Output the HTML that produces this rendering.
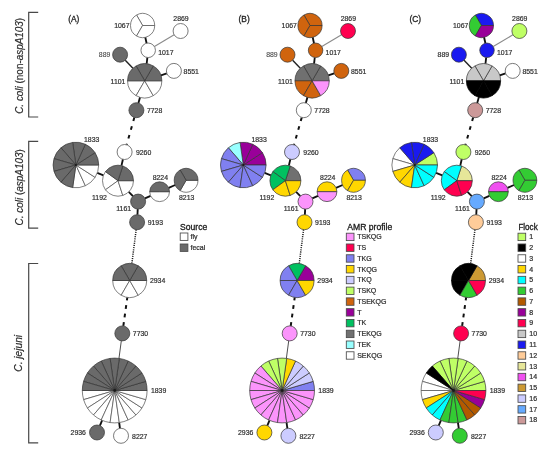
<!DOCTYPE html>
<html><head><meta charset="utf-8"><title>Minimum spanning trees</title>
<style>
html,body{margin:0;padding:0;background:#fff;}
body{width:550px;height:459px;overflow:hidden;}
svg{display:block;filter:blur(0.55px);}
text{font-family:"Liberation Sans",Arial,sans-serif;fill:#2e2e2e;}
.nl{font-size:6.9px;fill:#303030;stroke:#303030;stroke-width:0.2px;}
.lg{fill:#484848;stroke:#484848;stroke-width:0.1px;}
.pl{font-size:8.4px;fill:#222;stroke:#222;stroke-width:0.3px;}
.sp{font-size:10px;stroke:#2e2e2e;stroke-width:0.2px;}
.it{font-style:italic;}
.lt{font-size:8.6px;fill:#1a1a1a;stroke:#1a1a1a;stroke-width:0.3px;}
.li{font-size:7.0px;stroke:#2e2e2e;stroke-width:0.22px;}
</style></head><body>
<svg width="550" height="459" viewBox="0 0 550 459">
<rect width="550" height="459" fill="#fff"/>
<g id="panelA">
<line x1="145.27" y1="37.3" x2="146.6" y2="43.23" stroke="#111" stroke-width="1.85"/>
<line x1="154.43" y1="46.59" x2="174.16" y2="34.84" stroke="#8a8a8a" stroke-width="1.1"/>
<line x1="147.37" y1="57.5" x2="146.66" y2="63.76" stroke="#111" stroke-width="1.85"/>
<line x1="125.24" y1="60.16" x2="132.94" y2="68.32" stroke="#222" stroke-width="1.4"/>
<line x1="166.8" y1="73.31" x2="160.94" y2="75.29" stroke="#111" stroke-width="1.85"/>
<line x1="140.04" y1="97.3" x2="138.44" y2="102.98" stroke="#111" stroke-width="1.85"/>
<line x1="134.36" y1="117.42" x2="126.64" y2="144.78" stroke="#111" stroke-width="2" stroke-dasharray="3.8 5.3"/>
<line x1="122.92" y1="159.31" x2="121.47" y2="165.59" stroke="#111" stroke-width="1.85"/>
<line x1="97.26" y1="172.97" x2="103.48" y2="175.28" stroke="#111" stroke-width="1.85"/>
<line x1="128.74" y1="191.87" x2="132.9" y2="196.19" stroke="#111" stroke-width="1.85"/>
<line x1="144.91" y1="198.46" x2="150.61" y2="195.84" stroke="#111" stroke-width="1.85"/>
<line x1="168.69" y1="187.79" x2="175.17" y2="185" stroke="#111" stroke-width="1.85"/>
<line x1="137.74" y1="209.09" x2="137.46" y2="214.71" stroke="#111" stroke-width="1.85"/>
<line x1="136.16" y1="229.64" x2="131.84" y2="263.64" stroke="#1a1a1a" stroke-width="1.5" stroke-dasharray="1.1 1.1"/>
<line x1="123.34" y1="325.97" x2="127.34" y2="297.34" stroke="#111" stroke-width="2" stroke-dasharray="3.8 4.8"/>
<line x1="121.31" y1="340.83" x2="118.97" y2="358.38" stroke="#222" stroke-width="0.8"/>
<line x1="102.12" y1="420.36" x2="99.91" y2="425.59" stroke="#111" stroke-width="1.85"/>
<line x1="119.16" y1="422.59" x2="119.97" y2="428.37" stroke="#111" stroke-width="1.85"/>
<path d="M142.6 25.5L154.7 25.5A12.1 12.1 0 0 0 136.55 15.02Z" fill="#ffffff" stroke="#4c4c4c" stroke-width="0.7" stroke-linejoin="round"/>
<path d="M142.6 25.5L136.55 15.02A12.1 12.1 0 0 0 136.55 35.98Z" fill="#ffffff" stroke="#4c4c4c" stroke-width="0.7" stroke-linejoin="round"/>
<path d="M142.6 25.5L136.55 35.98A12.1 12.1 0 0 0 154.7 25.5Z" fill="#ffffff" stroke="#4c4c4c" stroke-width="0.7" stroke-linejoin="round"/>
<circle cx="180.6" cy="31" r="7.5" fill="#ffffff" stroke="#626262" stroke-width="0.85"/>
<circle cx="148.2" cy="50.3" r="7.25" fill="#ffffff" stroke="#626262" stroke-width="0.85"/>
<circle cx="120.1" cy="54.7" r="7.5" fill="#6a6a6a" stroke="#333333" stroke-width="0.7"/>
<circle cx="173.9" cy="70.9" r="7.5" fill="#ffffff" stroke="#626262" stroke-width="0.85"/>
<path d="M144.7 80.8L127.55 80.8A17.15 17.15 0 0 0 136.12 95.65Z" fill="#ffffff" stroke="#4c4c4c" stroke-width="0.7" stroke-linejoin="round"/>
<path d="M144.7 80.8L136.12 95.65A17.15 17.15 0 0 0 153.27 95.65Z" fill="#ffffff" stroke="#4c4c4c" stroke-width="0.7" stroke-linejoin="round"/>
<path d="M144.7 80.8L153.27 95.65A17.15 17.15 0 0 0 161.85 80.8Z" fill="#ffffff" stroke="#4c4c4c" stroke-width="0.7" stroke-linejoin="round"/>
<path d="M144.7 80.8L161.85 80.8A17.15 17.15 0 0 0 153.27 65.95Z" fill="#6a6a6a" stroke="#333333" stroke-width="0.7" stroke-linejoin="round"/>
<path d="M144.7 80.8L153.27 65.95A17.15 17.15 0 0 0 136.12 65.95Z" fill="#6a6a6a" stroke="#333333" stroke-width="0.7" stroke-linejoin="round"/>
<path d="M144.7 80.8L136.12 65.95A17.15 17.15 0 0 0 127.55 80.8Z" fill="#6a6a6a" stroke="#333333" stroke-width="0.7" stroke-linejoin="round"/>
<circle cx="136.4" cy="110.2" r="7.5" fill="#6a6a6a" stroke="#333333" stroke-width="0.7"/>
<circle cx="124.6" cy="152" r="7.5" fill="#ffffff" stroke="#626262" stroke-width="0.85"/>
<path d="M75.9 165L72.66 187.57A22.8 22.8 0 0 0 85.37 185.74Z" fill="#ffffff" stroke="#4c4c4c" stroke-width="0.7" stroke-linejoin="round"/>
<path d="M75.9 165L85.37 185.74A22.8 22.8 0 0 0 95.08 177.33Z" fill="#ffffff" stroke="#4c4c4c" stroke-width="0.7" stroke-linejoin="round"/>
<path d="M75.9 165L95.08 177.33A22.8 22.8 0 0 0 98.7 165Z" fill="#ffffff" stroke="#4c4c4c" stroke-width="0.7" stroke-linejoin="round"/>
<path d="M75.9 165L98.7 165A22.8 22.8 0 0 0 95.08 152.67Z" fill="#6a6a6a" stroke="#333333" stroke-width="0.7" stroke-linejoin="round"/>
<path d="M75.9 165L95.08 152.67A22.8 22.8 0 0 0 85.37 144.26Z" fill="#6a6a6a" stroke="#333333" stroke-width="0.7" stroke-linejoin="round"/>
<path d="M75.9 165L85.37 144.26A22.8 22.8 0 0 0 72.66 142.43Z" fill="#6a6a6a" stroke="#333333" stroke-width="0.7" stroke-linejoin="round"/>
<path d="M75.9 165L72.66 142.43A22.8 22.8 0 0 0 60.97 147.77Z" fill="#6a6a6a" stroke="#333333" stroke-width="0.7" stroke-linejoin="round"/>
<path d="M75.9 165L60.97 147.77A22.8 22.8 0 0 0 54.02 158.58Z" fill="#6a6a6a" stroke="#333333" stroke-width="0.7" stroke-linejoin="round"/>
<path d="M75.9 165L54.02 158.58A22.8 22.8 0 0 0 54.02 171.42Z" fill="#6a6a6a" stroke="#333333" stroke-width="0.7" stroke-linejoin="round"/>
<path d="M75.9 165L54.02 171.42A22.8 22.8 0 0 0 60.97 182.23Z" fill="#6a6a6a" stroke="#333333" stroke-width="0.7" stroke-linejoin="round"/>
<path d="M75.9 165L60.97 182.23A22.8 22.8 0 0 0 72.66 187.57Z" fill="#6a6a6a" stroke="#333333" stroke-width="0.7" stroke-linejoin="round"/>
<circle cx="75.9" cy="165" r="1.0" fill="#1a1a1a"/>
<path d="M118 180.7L105.46 171.59A15.5 15.5 0 0 0 105.46 189.81Z" fill="#ffffff" stroke="#4c4c4c" stroke-width="0.7" stroke-linejoin="round"/>
<path d="M118 180.7L105.46 189.81A15.5 15.5 0 0 0 122.79 195.44Z" fill="#ffffff" stroke="#4c4c4c" stroke-width="0.7" stroke-linejoin="round"/>
<path d="M118 180.7L122.79 195.44A15.5 15.5 0 0 0 133.5 180.7Z" fill="#ffffff" stroke="#4c4c4c" stroke-width="0.7" stroke-linejoin="round"/>
<path d="M118 180.7L133.5 180.7A15.5 15.5 0 0 0 122.79 165.96Z" fill="#6a6a6a" stroke="#333333" stroke-width="0.7" stroke-linejoin="round"/>
<path d="M118 180.7L122.79 165.96A15.5 15.5 0 0 0 105.46 171.59Z" fill="#6a6a6a" stroke="#333333" stroke-width="0.7" stroke-linejoin="round"/>
<path d="M159.6 191.7L149.7 191.7A9.9 9.9 0 0 0 169.5 191.7Z" fill="#ffffff" stroke="#4c4c4c" stroke-width="0.7" stroke-linejoin="round"/>
<path d="M159.6 191.7L169.5 191.7A9.9 9.9 0 0 0 149.7 191.7Z" fill="#6a6a6a" stroke="#333333" stroke-width="0.7" stroke-linejoin="round"/>
<path d="M186.1 180.3L180.15 190.61A11.9 11.9 0 0 0 198 180.3Z" fill="#ffffff" stroke="#4c4c4c" stroke-width="0.7" stroke-linejoin="round"/>
<path d="M186.1 180.3L198 180.3A11.9 11.9 0 0 0 180.15 169.99Z" fill="#6a6a6a" stroke="#333333" stroke-width="0.7" stroke-linejoin="round"/>
<path d="M186.1 180.3L180.15 169.99A11.9 11.9 0 0 0 180.15 190.61Z" fill="#6a6a6a" stroke="#333333" stroke-width="0.7" stroke-linejoin="round"/>
<circle cx="138.1" cy="201.6" r="7.5" fill="#6a6a6a" stroke="#333333" stroke-width="0.7"/>
<circle cx="137.1" cy="222.2" r="7.5" fill="#6a6a6a" stroke="#333333" stroke-width="0.7"/>
<path d="M129.7 280.5L112.7 280.5A17 17 0 0 0 121.2 295.22Z" fill="#ffffff" stroke="#4c4c4c" stroke-width="0.7" stroke-linejoin="round"/>
<path d="M129.7 280.5L121.2 295.22A17 17 0 0 0 138.2 295.22Z" fill="#ffffff" stroke="#4c4c4c" stroke-width="0.7" stroke-linejoin="round"/>
<path d="M129.7 280.5L138.2 295.22A17 17 0 0 0 146.7 280.5Z" fill="#ffffff" stroke="#4c4c4c" stroke-width="0.7" stroke-linejoin="round"/>
<path d="M129.7 280.5L146.7 280.5A17 17 0 0 0 138.2 265.78Z" fill="#6a6a6a" stroke="#333333" stroke-width="0.7" stroke-linejoin="round"/>
<path d="M129.7 280.5L138.2 265.78A17 17 0 0 0 121.2 265.78Z" fill="#6a6a6a" stroke="#333333" stroke-width="0.7" stroke-linejoin="round"/>
<path d="M129.7 280.5L121.2 265.78A17 17 0 0 0 112.7 280.5Z" fill="#6a6a6a" stroke="#333333" stroke-width="0.7" stroke-linejoin="round"/>
<circle cx="122.3" cy="333.4" r="7.5" fill="#6a6a6a" stroke="#333333" stroke-width="0.7"/>
<path d="M114.7 390.5L82.3 390.5A32.4 32.4 0 0 0 83.61 399.63Z" fill="#ffffff" stroke="#4c4c4c" stroke-width="0.7" stroke-linejoin="round"/>
<path d="M114.7 390.5L83.61 399.63A32.4 32.4 0 0 0 87.44 408.02Z" fill="#ffffff" stroke="#4c4c4c" stroke-width="0.7" stroke-linejoin="round"/>
<path d="M114.7 390.5L87.44 408.02A32.4 32.4 0 0 0 93.48 414.99Z" fill="#ffffff" stroke="#4c4c4c" stroke-width="0.7" stroke-linejoin="round"/>
<path d="M114.7 390.5L93.48 414.99A32.4 32.4 0 0 0 101.24 419.97Z" fill="#ffffff" stroke="#4c4c4c" stroke-width="0.7" stroke-linejoin="round"/>
<path d="M114.7 390.5L101.24 419.97A32.4 32.4 0 0 0 110.09 422.57Z" fill="#ffffff" stroke="#4c4c4c" stroke-width="0.7" stroke-linejoin="round"/>
<path d="M114.7 390.5L110.09 422.57A32.4 32.4 0 0 0 119.31 422.57Z" fill="#ffffff" stroke="#4c4c4c" stroke-width="0.7" stroke-linejoin="round"/>
<path d="M114.7 390.5L119.31 422.57A32.4 32.4 0 0 0 128.16 419.97Z" fill="#ffffff" stroke="#4c4c4c" stroke-width="0.7" stroke-linejoin="round"/>
<path d="M114.7 390.5L128.16 419.97A32.4 32.4 0 0 0 135.92 414.99Z" fill="#ffffff" stroke="#4c4c4c" stroke-width="0.7" stroke-linejoin="round"/>
<path d="M114.7 390.5L135.92 414.99A32.4 32.4 0 0 0 141.96 408.02Z" fill="#ffffff" stroke="#4c4c4c" stroke-width="0.7" stroke-linejoin="round"/>
<path d="M114.7 390.5L141.96 408.02A32.4 32.4 0 0 0 145.79 399.63Z" fill="#ffffff" stroke="#4c4c4c" stroke-width="0.7" stroke-linejoin="round"/>
<path d="M114.7 390.5L145.79 399.63A32.4 32.4 0 0 0 147.1 390.5Z" fill="#ffffff" stroke="#4c4c4c" stroke-width="0.7" stroke-linejoin="round"/>
<path d="M114.7 390.5L147.1 390.5A32.4 32.4 0 0 0 145.79 381.37Z" fill="#6a6a6a" stroke="#333333" stroke-width="0.7" stroke-linejoin="round"/>
<path d="M114.7 390.5L145.79 381.37A32.4 32.4 0 0 0 141.96 372.98Z" fill="#6a6a6a" stroke="#333333" stroke-width="0.7" stroke-linejoin="round"/>
<path d="M114.7 390.5L141.96 372.98A32.4 32.4 0 0 0 135.92 366.01Z" fill="#6a6a6a" stroke="#333333" stroke-width="0.7" stroke-linejoin="round"/>
<path d="M114.7 390.5L135.92 366.01A32.4 32.4 0 0 0 128.16 361.03Z" fill="#6a6a6a" stroke="#333333" stroke-width="0.7" stroke-linejoin="round"/>
<path d="M114.7 390.5L128.16 361.03A32.4 32.4 0 0 0 119.31 358.43Z" fill="#6a6a6a" stroke="#333333" stroke-width="0.7" stroke-linejoin="round"/>
<path d="M114.7 390.5L119.31 358.43A32.4 32.4 0 0 0 110.09 358.43Z" fill="#6a6a6a" stroke="#333333" stroke-width="0.7" stroke-linejoin="round"/>
<path d="M114.7 390.5L110.09 358.43A32.4 32.4 0 0 0 101.24 361.03Z" fill="#6a6a6a" stroke="#333333" stroke-width="0.7" stroke-linejoin="round"/>
<path d="M114.7 390.5L101.24 361.03A32.4 32.4 0 0 0 93.48 366.01Z" fill="#6a6a6a" stroke="#333333" stroke-width="0.7" stroke-linejoin="round"/>
<path d="M114.7 390.5L93.48 366.01A32.4 32.4 0 0 0 87.44 372.98Z" fill="#6a6a6a" stroke="#333333" stroke-width="0.7" stroke-linejoin="round"/>
<path d="M114.7 390.5L87.44 372.98A32.4 32.4 0 0 0 83.61 381.37Z" fill="#6a6a6a" stroke="#333333" stroke-width="0.7" stroke-linejoin="round"/>
<path d="M114.7 390.5L83.61 381.37A32.4 32.4 0 0 0 82.3 390.5Z" fill="#6a6a6a" stroke="#333333" stroke-width="0.7" stroke-linejoin="round"/>
<circle cx="114.7" cy="390.5" r="1.4" fill="#1a1a1a"/>
<circle cx="97" cy="432.5" r="7.5" fill="#6a6a6a" stroke="#333333" stroke-width="0.7"/>
<circle cx="121" cy="435.8" r="7.5" fill="#ffffff" stroke="#626262" stroke-width="0.85"/>
<text x="114.2" y="27.6" class="nl">1067</text>
<text x="173.3" y="20.6" class="nl">2869</text>
<text x="158.2" y="55.2" class="nl">1017</text>
<text x="98.8" y="56.9" class="nl lg">889</text>
<text x="183.6" y="73.5" class="nl">8551</text>
<text x="110.6" y="83.5" class="nl">1101</text>
<text x="146.9" y="113" class="nl">7728</text>
<text x="135.9" y="155.1" class="nl">9260</text>
<text x="152.7" y="179.5" class="nl">8224</text>
<text x="179" y="199.8" class="nl">8213</text>
<text x="116.3" y="210.8" class="nl">1161</text>
<text x="147.7" y="224.5" class="nl">9193</text>
<text x="84" y="141.7" class="nl">1833</text>
<text x="92" y="199.6" class="nl">1192</text>
<text x="149.9" y="283.4" class="nl">2934</text>
<text x="132.8" y="335.9" class="nl">7730</text>
<text x="150.9" y="392.9" class="nl">1839</text>
<text x="70.6" y="434.8" class="nl">2936</text>
<text x="132.1" y="438.8" class="nl">8227</text>
</g>
<g id="panelB">
<line x1="312.67" y1="37.3" x2="314" y2="43.23" stroke="#111" stroke-width="1.85"/>
<line x1="321.83" y1="46.59" x2="341.56" y2="34.84" stroke="#8a8a8a" stroke-width="1.1"/>
<line x1="314.77" y1="57.5" x2="314.06" y2="63.76" stroke="#111" stroke-width="1.85"/>
<line x1="292.64" y1="60.16" x2="300.34" y2="68.32" stroke="#222" stroke-width="1.4"/>
<line x1="334.2" y1="73.31" x2="328.34" y2="75.29" stroke="#111" stroke-width="1.85"/>
<line x1="307.44" y1="97.3" x2="305.84" y2="102.98" stroke="#111" stroke-width="1.85"/>
<line x1="301.76" y1="117.42" x2="294.04" y2="144.78" stroke="#111" stroke-width="2" stroke-dasharray="3.8 5.3"/>
<line x1="290.32" y1="159.31" x2="288.87" y2="165.59" stroke="#111" stroke-width="1.85"/>
<line x1="264.66" y1="172.97" x2="270.88" y2="175.28" stroke="#111" stroke-width="1.85"/>
<line x1="296.14" y1="191.87" x2="300.3" y2="196.19" stroke="#111" stroke-width="1.85"/>
<line x1="312.31" y1="198.46" x2="318.01" y2="195.84" stroke="#111" stroke-width="1.85"/>
<line x1="336.09" y1="187.79" x2="342.57" y2="185" stroke="#111" stroke-width="1.85"/>
<line x1="305.14" y1="209.09" x2="304.86" y2="214.71" stroke="#111" stroke-width="1.85"/>
<line x1="303.56" y1="229.64" x2="299.24" y2="263.64" stroke="#1a1a1a" stroke-width="1.5" stroke-dasharray="1.1 1.1"/>
<line x1="290.74" y1="325.97" x2="294.74" y2="297.34" stroke="#111" stroke-width="2" stroke-dasharray="3.8 4.8"/>
<line x1="288.71" y1="340.83" x2="286.37" y2="358.38" stroke="#222" stroke-width="0.8"/>
<line x1="269.52" y1="420.36" x2="267.31" y2="425.59" stroke="#111" stroke-width="1.85"/>
<line x1="286.56" y1="422.59" x2="287.37" y2="428.37" stroke="#111" stroke-width="1.85"/>
<path d="M310 25.5L322.1 25.5A12.1 12.1 0 0 0 303.95 15.02Z" fill="#d0640e" stroke="#333333" stroke-width="0.7" stroke-linejoin="round"/>
<path d="M310 25.5L303.95 15.02A12.1 12.1 0 0 0 303.95 35.98Z" fill="#d0640e" stroke="#333333" stroke-width="0.7" stroke-linejoin="round"/>
<path d="M310 25.5L303.95 35.98A12.1 12.1 0 0 0 322.1 25.5Z" fill="#d0640e" stroke="#333333" stroke-width="0.7" stroke-linejoin="round"/>
<circle cx="348" cy="31" r="7.5" fill="#ff0050" stroke="#333333" stroke-width="0.7"/>
<circle cx="315.6" cy="50.3" r="7.25" fill="#d0640e" stroke="#333333" stroke-width="0.7"/>
<circle cx="287.5" cy="54.7" r="7.5" fill="#d0640e" stroke="#333333" stroke-width="0.7"/>
<circle cx="341.3" cy="70.9" r="7.5" fill="#d0640e" stroke="#333333" stroke-width="0.7"/>
<path d="M312.1 80.8L329.25 80.8A17.15 17.15 0 0 0 320.68 65.95Z" fill="#707070" stroke="#333333" stroke-width="0.7" stroke-linejoin="round"/>
<path d="M312.1 80.8L320.68 65.95A17.15 17.15 0 0 0 303.53 65.95Z" fill="#707070" stroke="#333333" stroke-width="0.7" stroke-linejoin="round"/>
<path d="M312.1 80.8L303.53 65.95A17.15 17.15 0 0 0 294.95 80.8Z" fill="#707070" stroke="#333333" stroke-width="0.7" stroke-linejoin="round"/>
<path d="M312.1 80.8L294.95 80.8A17.15 17.15 0 0 0 303.53 95.65Z" fill="#d0640e" stroke="#333333" stroke-width="0.7" stroke-linejoin="round"/>
<path d="M312.1 80.8L303.53 95.65A17.15 17.15 0 0 0 320.68 95.65Z" fill="#d0640e" stroke="#333333" stroke-width="0.7" stroke-linejoin="round"/>
<path d="M312.1 80.8L320.68 95.65A17.15 17.15 0 0 0 329.25 80.8Z" fill="#fb94fb" stroke="#333333" stroke-width="0.7" stroke-linejoin="round"/>
<circle cx="303.8" cy="110.2" r="7.5" fill="#ffffff" stroke="#626262" stroke-width="0.85"/>
<circle cx="292" cy="152" r="7.5" fill="#ccccff" stroke="#333333" stroke-width="0.7"/>
<path d="M243.3 165L266.1 165A22.8 22.8 0 0 0 262.48 152.67Z" fill="#990099" stroke="#333333" stroke-width="0.7" stroke-linejoin="round"/>
<path d="M243.3 165L262.48 152.67A22.8 22.8 0 0 0 252.77 144.26Z" fill="#990099" stroke="#333333" stroke-width="0.7" stroke-linejoin="round"/>
<path d="M243.3 165L252.77 144.26A22.8 22.8 0 0 0 240.06 142.43Z" fill="#990099" stroke="#333333" stroke-width="0.7" stroke-linejoin="round"/>
<path d="M243.3 165L240.06 142.43A22.8 22.8 0 0 0 228.37 147.77Z" fill="#99ffff" stroke="#333333" stroke-width="0.7" stroke-linejoin="round"/>
<path d="M243.3 165L228.37 147.77A22.8 22.8 0 0 0 221.42 158.58Z" fill="#8080f0" stroke="#333333" stroke-width="0.7" stroke-linejoin="round"/>
<path d="M243.3 165L221.42 158.58A22.8 22.8 0 0 0 221.42 171.42Z" fill="#8080f0" stroke="#333333" stroke-width="0.7" stroke-linejoin="round"/>
<path d="M243.3 165L221.42 171.42A22.8 22.8 0 0 0 228.37 182.23Z" fill="#8080f0" stroke="#333333" stroke-width="0.7" stroke-linejoin="round"/>
<path d="M243.3 165L228.37 182.23A22.8 22.8 0 0 0 240.06 187.57Z" fill="#8080f0" stroke="#333333" stroke-width="0.7" stroke-linejoin="round"/>
<path d="M243.3 165L240.06 187.57A22.8 22.8 0 0 0 252.77 185.74Z" fill="#8080f0" stroke="#333333" stroke-width="0.7" stroke-linejoin="round"/>
<path d="M243.3 165L252.77 185.74A22.8 22.8 0 0 0 262.48 177.33Z" fill="#8080f0" stroke="#333333" stroke-width="0.7" stroke-linejoin="round"/>
<path d="M243.3 165L262.48 177.33A22.8 22.8 0 0 0 266.1 165Z" fill="#8080f0" stroke="#333333" stroke-width="0.7" stroke-linejoin="round"/>
<circle cx="243.3" cy="165" r="1.0" fill="#1a1a1a"/>
<path d="M285.4 180.7L300.9 180.7A15.5 15.5 0 0 0 290.19 165.96Z" fill="#707070" stroke="#333333" stroke-width="0.7" stroke-linejoin="round"/>
<path d="M285.4 180.7L290.19 165.96A15.5 15.5 0 0 0 272.86 171.59Z" fill="#00c060" stroke="#333333" stroke-width="0.7" stroke-linejoin="round"/>
<path d="M285.4 180.7L272.86 171.59A15.5 15.5 0 0 0 272.86 189.81Z" fill="#00c060" stroke="#333333" stroke-width="0.7" stroke-linejoin="round"/>
<path d="M285.4 180.7L272.86 189.81A15.5 15.5 0 0 0 290.19 195.44Z" fill="#ffd700" stroke="#333333" stroke-width="0.7" stroke-linejoin="round"/>
<path d="M285.4 180.7L290.19 195.44A15.5 15.5 0 0 0 300.9 180.7Z" fill="#ffd700" stroke="#333333" stroke-width="0.7" stroke-linejoin="round"/>
<path d="M327 191.7L336.9 191.7A9.9 9.9 0 0 0 317.1 191.7Z" fill="#ffd700" stroke="#333333" stroke-width="0.7" stroke-linejoin="round"/>
<path d="M327 191.7L317.1 191.7A9.9 9.9 0 0 0 336.9 191.7Z" fill="#fb94fb" stroke="#333333" stroke-width="0.7" stroke-linejoin="round"/>
<path d="M353.5 180.3L365.4 180.3A11.9 11.9 0 0 0 347.55 169.99Z" fill="#8080f0" stroke="#333333" stroke-width="0.7" stroke-linejoin="round"/>
<path d="M353.5 180.3L347.55 169.99A11.9 11.9 0 0 0 347.55 190.61Z" fill="#ffd700" stroke="#333333" stroke-width="0.7" stroke-linejoin="round"/>
<path d="M353.5 180.3L347.55 190.61A11.9 11.9 0 0 0 365.4 180.3Z" fill="#ffd700" stroke="#333333" stroke-width="0.7" stroke-linejoin="round"/>
<circle cx="305.5" cy="201.6" r="7.5" fill="#fb94fb" stroke="#333333" stroke-width="0.7"/>
<circle cx="304.5" cy="222.2" r="7.5" fill="#ffd700" stroke="#333333" stroke-width="0.7"/>
<path d="M297.1 280.5L314.1 280.5A17 17 0 0 0 305.6 265.78Z" fill="#990099" stroke="#333333" stroke-width="0.7" stroke-linejoin="round"/>
<path d="M297.1 280.5L305.6 265.78A17 17 0 0 0 288.6 265.78Z" fill="#00c060" stroke="#333333" stroke-width="0.7" stroke-linejoin="round"/>
<path d="M297.1 280.5L288.6 265.78A17 17 0 0 0 280.1 280.5Z" fill="#8080f0" stroke="#333333" stroke-width="0.7" stroke-linejoin="round"/>
<path d="M297.1 280.5L280.1 280.5A17 17 0 0 0 288.6 295.22Z" fill="#8080f0" stroke="#333333" stroke-width="0.7" stroke-linejoin="round"/>
<path d="M297.1 280.5L288.6 295.22A17 17 0 0 0 305.6 295.22Z" fill="#8080f0" stroke="#333333" stroke-width="0.7" stroke-linejoin="round"/>
<path d="M297.1 280.5L305.6 295.22A17 17 0 0 0 314.1 280.5Z" fill="#ffd700" stroke="#333333" stroke-width="0.7" stroke-linejoin="round"/>
<circle cx="289.7" cy="333.4" r="7.5" fill="#fb94fb" stroke="#333333" stroke-width="0.7"/>
<path d="M282.1 390.5L314.5 390.5A32.4 32.4 0 0 0 313.19 381.37Z" fill="#8080f0" stroke="#333333" stroke-width="0.7" stroke-linejoin="round"/>
<path d="M282.1 390.5L313.19 381.37A32.4 32.4 0 0 0 309.36 372.98Z" fill="#ccccff" stroke="#333333" stroke-width="0.7" stroke-linejoin="round"/>
<path d="M282.1 390.5L309.36 372.98A32.4 32.4 0 0 0 303.32 366.01Z" fill="#ccccff" stroke="#333333" stroke-width="0.7" stroke-linejoin="round"/>
<path d="M282.1 390.5L303.32 366.01A32.4 32.4 0 0 0 295.56 361.03Z" fill="#ccccff" stroke="#333333" stroke-width="0.7" stroke-linejoin="round"/>
<path d="M282.1 390.5L295.56 361.03A32.4 32.4 0 0 0 286.71 358.43Z" fill="#ffd700" stroke="#333333" stroke-width="0.7" stroke-linejoin="round"/>
<path d="M282.1 390.5L286.71 358.43A32.4 32.4 0 0 0 277.49 358.43Z" fill="#bfff66" stroke="#333333" stroke-width="0.7" stroke-linejoin="round"/>
<path d="M282.1 390.5L277.49 358.43A32.4 32.4 0 0 0 268.64 361.03Z" fill="#bfff66" stroke="#333333" stroke-width="0.7" stroke-linejoin="round"/>
<path d="M282.1 390.5L268.64 361.03A32.4 32.4 0 0 0 260.88 366.01Z" fill="#bfff66" stroke="#333333" stroke-width="0.7" stroke-linejoin="round"/>
<path d="M282.1 390.5L260.88 366.01A32.4 32.4 0 0 0 254.84 372.98Z" fill="#fb94fb" stroke="#333333" stroke-width="0.7" stroke-linejoin="round"/>
<path d="M282.1 390.5L254.84 372.98A32.4 32.4 0 0 0 251.01 381.37Z" fill="#fb94fb" stroke="#333333" stroke-width="0.7" stroke-linejoin="round"/>
<path d="M282.1 390.5L251.01 381.37A32.4 32.4 0 0 0 249.7 390.5Z" fill="#fb94fb" stroke="#333333" stroke-width="0.7" stroke-linejoin="round"/>
<path d="M282.1 390.5L249.7 390.5A32.4 32.4 0 0 0 251.01 399.63Z" fill="#fb94fb" stroke="#333333" stroke-width="0.7" stroke-linejoin="round"/>
<path d="M282.1 390.5L251.01 399.63A32.4 32.4 0 0 0 254.84 408.02Z" fill="#fb94fb" stroke="#333333" stroke-width="0.7" stroke-linejoin="round"/>
<path d="M282.1 390.5L254.84 408.02A32.4 32.4 0 0 0 260.88 414.99Z" fill="#fb94fb" stroke="#333333" stroke-width="0.7" stroke-linejoin="round"/>
<path d="M282.1 390.5L260.88 414.99A32.4 32.4 0 0 0 268.64 419.97Z" fill="#fb94fb" stroke="#333333" stroke-width="0.7" stroke-linejoin="round"/>
<path d="M282.1 390.5L268.64 419.97A32.4 32.4 0 0 0 277.49 422.57Z" fill="#fb94fb" stroke="#333333" stroke-width="0.7" stroke-linejoin="round"/>
<path d="M282.1 390.5L277.49 422.57A32.4 32.4 0 0 0 286.71 422.57Z" fill="#fb94fb" stroke="#333333" stroke-width="0.7" stroke-linejoin="round"/>
<path d="M282.1 390.5L286.71 422.57A32.4 32.4 0 0 0 295.56 419.97Z" fill="#fb94fb" stroke="#333333" stroke-width="0.7" stroke-linejoin="round"/>
<path d="M282.1 390.5L295.56 419.97A32.4 32.4 0 0 0 303.32 414.99Z" fill="#fb94fb" stroke="#333333" stroke-width="0.7" stroke-linejoin="round"/>
<path d="M282.1 390.5L303.32 414.99A32.4 32.4 0 0 0 309.36 408.02Z" fill="#fb94fb" stroke="#333333" stroke-width="0.7" stroke-linejoin="round"/>
<path d="M282.1 390.5L309.36 408.02A32.4 32.4 0 0 0 313.19 399.63Z" fill="#fb94fb" stroke="#333333" stroke-width="0.7" stroke-linejoin="round"/>
<path d="M282.1 390.5L313.19 399.63A32.4 32.4 0 0 0 314.5 390.5Z" fill="#fb94fb" stroke="#333333" stroke-width="0.7" stroke-linejoin="round"/>
<circle cx="282.1" cy="390.5" r="1.4" fill="#1a1a1a"/>
<circle cx="264.4" cy="432.5" r="7.5" fill="#ffd700" stroke="#333333" stroke-width="0.7"/>
<circle cx="288.4" cy="435.8" r="7.5" fill="#ccccff" stroke="#333333" stroke-width="0.7"/>
<text x="281.6" y="27.6" class="nl">1067</text>
<text x="340.7" y="20.6" class="nl">2869</text>
<text x="325.6" y="55.2" class="nl">1017</text>
<text x="266.2" y="56.9" class="nl lg">889</text>
<text x="351" y="73.5" class="nl">8551</text>
<text x="278" y="83.5" class="nl">1101</text>
<text x="314.3" y="113" class="nl">7728</text>
<text x="303.3" y="155.1" class="nl">9260</text>
<text x="320.1" y="179.5" class="nl">8224</text>
<text x="346.4" y="199.8" class="nl">8213</text>
<text x="283.7" y="210.8" class="nl">1161</text>
<text x="315.1" y="224.5" class="nl">9193</text>
<text x="251.4" y="141.7" class="nl">1833</text>
<text x="259.4" y="199.6" class="nl">1192</text>
<text x="317.3" y="283.4" class="nl">2934</text>
<text x="300.2" y="335.9" class="nl">7730</text>
<text x="318.3" y="392.9" class="nl">1839</text>
<text x="238" y="434.8" class="nl">2936</text>
<text x="299.5" y="438.8" class="nl">8227</text>
</g>
<g id="panelC">
<line x1="484.07" y1="37.3" x2="485.4" y2="43.23" stroke="#111" stroke-width="1.85"/>
<line x1="493.23" y1="46.59" x2="512.96" y2="34.84" stroke="#8a8a8a" stroke-width="1.1"/>
<line x1="486.17" y1="57.5" x2="485.46" y2="63.76" stroke="#111" stroke-width="1.85"/>
<line x1="464.04" y1="60.16" x2="471.74" y2="68.32" stroke="#222" stroke-width="1.4"/>
<line x1="505.6" y1="73.31" x2="499.74" y2="75.29" stroke="#111" stroke-width="1.85"/>
<line x1="478.84" y1="97.3" x2="477.24" y2="102.98" stroke="#111" stroke-width="1.85"/>
<line x1="473.16" y1="117.42" x2="465.44" y2="144.78" stroke="#111" stroke-width="2" stroke-dasharray="3.8 5.3"/>
<line x1="461.72" y1="159.31" x2="460.27" y2="165.59" stroke="#111" stroke-width="1.85"/>
<line x1="436.06" y1="172.97" x2="442.28" y2="175.28" stroke="#111" stroke-width="1.85"/>
<line x1="467.54" y1="191.87" x2="471.7" y2="196.19" stroke="#111" stroke-width="1.85"/>
<line x1="483.71" y1="198.46" x2="489.41" y2="195.84" stroke="#111" stroke-width="1.85"/>
<line x1="507.49" y1="187.79" x2="513.97" y2="185" stroke="#111" stroke-width="1.85"/>
<line x1="476.54" y1="209.09" x2="476.26" y2="214.71" stroke="#111" stroke-width="1.85"/>
<line x1="474.96" y1="229.64" x2="470.64" y2="263.64" stroke="#1a1a1a" stroke-width="1.5" stroke-dasharray="1.1 1.1"/>
<line x1="462.14" y1="325.97" x2="466.14" y2="297.34" stroke="#111" stroke-width="2" stroke-dasharray="3.8 4.8"/>
<line x1="460.11" y1="340.83" x2="457.77" y2="358.38" stroke="#222" stroke-width="0.8"/>
<line x1="440.92" y1="420.36" x2="438.71" y2="425.59" stroke="#111" stroke-width="1.85"/>
<line x1="457.96" y1="422.59" x2="458.77" y2="428.37" stroke="#111" stroke-width="1.85"/>
<path d="M481.4 25.5L493.5 25.5A12.1 12.1 0 0 0 475.35 15.02Z" fill="#1a1af0" stroke="#333333" stroke-width="0.7" stroke-linejoin="round"/>
<path d="M481.4 25.5L475.35 15.02A12.1 12.1 0 0 0 475.35 35.98Z" fill="#33cc33" stroke="#333333" stroke-width="0.7" stroke-linejoin="round"/>
<path d="M481.4 25.5L475.35 35.98A12.1 12.1 0 0 0 493.5 25.5Z" fill="#990099" stroke="#333333" stroke-width="0.7" stroke-linejoin="round"/>
<circle cx="519.4" cy="31" r="7.5" fill="#bfff66" stroke="#333333" stroke-width="0.7"/>
<circle cx="487" cy="50.3" r="7.25" fill="#1a1af0" stroke="#333333" stroke-width="0.7"/>
<circle cx="458.9" cy="54.7" r="7.5" fill="#1a1af0" stroke="#333333" stroke-width="0.7"/>
<circle cx="512.7" cy="70.9" r="7.5" fill="#ffffff" stroke="#626262" stroke-width="0.85"/>
<path d="M483.5 80.8L500.65 80.8A17.15 17.15 0 0 0 492.07 65.95Z" fill="#c8c8c8" stroke="#333333" stroke-width="0.7" stroke-linejoin="round"/>
<path d="M483.5 80.8L492.07 65.95A17.15 17.15 0 0 0 474.93 65.95Z" fill="#c8c8c8" stroke="#333333" stroke-width="0.7" stroke-linejoin="round"/>
<path d="M483.5 80.8L474.93 65.95A17.15 17.15 0 0 0 466.35 80.8Z" fill="#c8c8c8" stroke="#333333" stroke-width="0.7" stroke-linejoin="round"/>
<path d="M483.5 80.8L466.35 80.8A17.15 17.15 0 0 0 474.93 95.65Z" fill="#000000" stroke="#000" stroke-width="0.7" stroke-linejoin="round"/>
<path d="M483.5 80.8L474.93 95.65A17.15 17.15 0 0 0 492.07 95.65Z" fill="#000000" stroke="#000" stroke-width="0.7" stroke-linejoin="round"/>
<path d="M483.5 80.8L492.07 95.65A17.15 17.15 0 0 0 500.65 80.8Z" fill="#000000" stroke="#000" stroke-width="0.7" stroke-linejoin="round"/>
<circle cx="475.2" cy="110.2" r="7.5" fill="#cc9999" stroke="#333333" stroke-width="0.7"/>
<circle cx="463.4" cy="152" r="7.5" fill="#bfff66" stroke="#333333" stroke-width="0.7"/>
<path d="M414.7 165L399.77 147.77A22.8 22.8 0 0 0 392.82 158.58Z" fill="#ffffff" stroke="#4c4c4c" stroke-width="0.7" stroke-linejoin="round"/>
<path d="M414.7 165L392.82 158.58A22.8 22.8 0 0 0 392.82 171.42Z" fill="#ffffff" stroke="#4c4c4c" stroke-width="0.7" stroke-linejoin="round"/>
<path d="M414.7 165L437.5 165A22.8 22.8 0 0 0 433.88 152.67Z" fill="#bfff66" stroke="#333333" stroke-width="0.7" stroke-linejoin="round"/>
<path d="M414.7 165L433.88 152.67A22.8 22.8 0 0 0 424.17 144.26Z" fill="#1a1af0" stroke="#333333" stroke-width="0.7" stroke-linejoin="round"/>
<path d="M414.7 165L424.17 144.26A22.8 22.8 0 0 0 411.46 142.43Z" fill="#1a1af0" stroke="#333333" stroke-width="0.7" stroke-linejoin="round"/>
<path d="M414.7 165L411.46 142.43A22.8 22.8 0 0 0 399.77 147.77Z" fill="#1a1af0" stroke="#333333" stroke-width="0.7" stroke-linejoin="round"/>
<path d="M414.7 165L392.82 171.42A22.8 22.8 0 0 0 399.77 182.23Z" fill="#ffd700" stroke="#333333" stroke-width="0.7" stroke-linejoin="round"/>
<path d="M414.7 165L399.77 182.23A22.8 22.8 0 0 0 411.46 187.57Z" fill="#ffd700" stroke="#333333" stroke-width="0.7" stroke-linejoin="round"/>
<path d="M414.7 165L411.46 187.57A22.8 22.8 0 0 0 424.17 185.74Z" fill="#00ffff" stroke="#333333" stroke-width="0.7" stroke-linejoin="round"/>
<path d="M414.7 165L424.17 185.74A22.8 22.8 0 0 0 433.88 177.33Z" fill="#00ffff" stroke="#333333" stroke-width="0.7" stroke-linejoin="round"/>
<path d="M414.7 165L433.88 177.33A22.8 22.8 0 0 0 437.5 165Z" fill="#00ffff" stroke="#333333" stroke-width="0.7" stroke-linejoin="round"/>
<circle cx="414.7" cy="165" r="1.0" fill="#1a1a1a"/>
<path d="M456.8 180.7L472.3 180.7A15.5 15.5 0 0 0 461.59 165.96Z" fill="#e6e699" stroke="#333333" stroke-width="0.7" stroke-linejoin="round"/>
<path d="M456.8 180.7L461.59 165.96A15.5 15.5 0 0 0 444.26 171.59Z" fill="#00ffff" stroke="#333333" stroke-width="0.7" stroke-linejoin="round"/>
<path d="M456.8 180.7L444.26 171.59A15.5 15.5 0 0 0 444.26 189.81Z" fill="#00ffff" stroke="#333333" stroke-width="0.7" stroke-linejoin="round"/>
<path d="M456.8 180.7L444.26 189.81A15.5 15.5 0 0 0 461.59 195.44Z" fill="#ff0050" stroke="#333333" stroke-width="0.7" stroke-linejoin="round"/>
<path d="M456.8 180.7L461.59 195.44A15.5 15.5 0 0 0 472.3 180.7Z" fill="#ff0050" stroke="#333333" stroke-width="0.7" stroke-linejoin="round"/>
<path d="M498.4 191.7L508.3 191.7A9.9 9.9 0 0 0 488.5 191.7Z" fill="#f050f0" stroke="#333333" stroke-width="0.7" stroke-linejoin="round"/>
<path d="M498.4 191.7L488.5 191.7A9.9 9.9 0 0 0 508.3 191.7Z" fill="#33cc33" stroke="#333333" stroke-width="0.7" stroke-linejoin="round"/>
<path d="M524.9 180.3L536.8 180.3A11.9 11.9 0 0 0 518.95 169.99Z" fill="#33cc33" stroke="#333333" stroke-width="0.7" stroke-linejoin="round"/>
<path d="M524.9 180.3L518.95 169.99A11.9 11.9 0 0 0 518.95 190.61Z" fill="#33cc33" stroke="#333333" stroke-width="0.7" stroke-linejoin="round"/>
<path d="M524.9 180.3L518.95 190.61A11.9 11.9 0 0 0 536.8 180.3Z" fill="#33cc33" stroke="#333333" stroke-width="0.7" stroke-linejoin="round"/>
<circle cx="476.9" cy="201.6" r="7.5" fill="#66aaff" stroke="#333333" stroke-width="0.7"/>
<circle cx="475.9" cy="222.2" r="7.5" fill="#ffcc99" stroke="#333333" stroke-width="0.7"/>
<path d="M468.5 280.5L485.5 280.5A17 17 0 0 0 477 265.78Z" fill="#cc9933" stroke="#333333" stroke-width="0.7" stroke-linejoin="round"/>
<path d="M468.5 280.5L477 265.78A17 17 0 0 0 460 265.78Z" fill="#000000" stroke="#000" stroke-width="0.7" stroke-linejoin="round"/>
<path d="M468.5 280.5L460 265.78A17 17 0 0 0 451.5 280.5Z" fill="#000000" stroke="#000" stroke-width="0.7" stroke-linejoin="round"/>
<path d="M468.5 280.5L451.5 280.5A17 17 0 0 0 460 295.22Z" fill="#000000" stroke="#000" stroke-width="0.7" stroke-linejoin="round"/>
<path d="M468.5 280.5L460 295.22A17 17 0 0 0 477 295.22Z" fill="#33cc33" stroke="#333333" stroke-width="0.7" stroke-linejoin="round"/>
<path d="M468.5 280.5L477 295.22A17 17 0 0 0 485.5 280.5Z" fill="#ff0050" stroke="#333333" stroke-width="0.7" stroke-linejoin="round"/>
<circle cx="461.1" cy="333.4" r="7.5" fill="#ff0050" stroke="#333333" stroke-width="0.7"/>
<path d="M453.5 390.5L426.24 372.98A32.4 32.4 0 0 0 422.41 381.37Z" fill="#ffffff" stroke="#4c4c4c" stroke-width="0.7" stroke-linejoin="round"/>
<path d="M453.5 390.5L422.41 381.37A32.4 32.4 0 0 0 421.1 390.5Z" fill="#ffffff" stroke="#4c4c4c" stroke-width="0.7" stroke-linejoin="round"/>
<path d="M453.5 390.5L421.1 390.5A32.4 32.4 0 0 0 422.41 399.63Z" fill="#ffffff" stroke="#4c4c4c" stroke-width="0.7" stroke-linejoin="round"/>
<path d="M453.5 390.5L485.9 390.5A32.4 32.4 0 0 0 484.59 381.37Z" fill="#bfff66" stroke="#333333" stroke-width="0.7" stroke-linejoin="round"/>
<path d="M453.5 390.5L484.59 381.37A32.4 32.4 0 0 0 480.76 372.98Z" fill="#bfff66" stroke="#333333" stroke-width="0.7" stroke-linejoin="round"/>
<path d="M453.5 390.5L480.76 372.98A32.4 32.4 0 0 0 474.72 366.01Z" fill="#bfff66" stroke="#333333" stroke-width="0.7" stroke-linejoin="round"/>
<path d="M453.5 390.5L474.72 366.01A32.4 32.4 0 0 0 466.96 361.03Z" fill="#bfff66" stroke="#333333" stroke-width="0.7" stroke-linejoin="round"/>
<path d="M453.5 390.5L466.96 361.03A32.4 32.4 0 0 0 458.11 358.43Z" fill="#bfff66" stroke="#333333" stroke-width="0.7" stroke-linejoin="round"/>
<path d="M453.5 390.5L458.11 358.43A32.4 32.4 0 0 0 448.89 358.43Z" fill="#bfff66" stroke="#333333" stroke-width="0.7" stroke-linejoin="round"/>
<path d="M453.5 390.5L448.89 358.43A32.4 32.4 0 0 0 440.04 361.03Z" fill="#bfff66" stroke="#333333" stroke-width="0.7" stroke-linejoin="round"/>
<path d="M453.5 390.5L440.04 361.03A32.4 32.4 0 0 0 432.28 366.01Z" fill="#bfff66" stroke="#333333" stroke-width="0.7" stroke-linejoin="round"/>
<path d="M453.5 390.5L432.28 366.01A32.4 32.4 0 0 0 426.24 372.98Z" fill="#000000" stroke="#000" stroke-width="0.7" stroke-linejoin="round"/>
<path d="M453.5 390.5L422.41 399.63A32.4 32.4 0 0 0 426.24 408.02Z" fill="#ffd700" stroke="#333333" stroke-width="0.7" stroke-linejoin="round"/>
<path d="M453.5 390.5L426.24 408.02A32.4 32.4 0 0 0 432.28 414.99Z" fill="#00ffff" stroke="#333333" stroke-width="0.7" stroke-linejoin="round"/>
<path d="M453.5 390.5L432.28 414.99A32.4 32.4 0 0 0 440.04 419.97Z" fill="#00ffff" stroke="#333333" stroke-width="0.7" stroke-linejoin="round"/>
<path d="M453.5 390.5L440.04 419.97A32.4 32.4 0 0 0 448.89 422.57Z" fill="#33cc33" stroke="#333333" stroke-width="0.7" stroke-linejoin="round"/>
<path d="M453.5 390.5L448.89 422.57A32.4 32.4 0 0 0 458.11 422.57Z" fill="#33cc33" stroke="#333333" stroke-width="0.7" stroke-linejoin="round"/>
<path d="M453.5 390.5L458.11 422.57A32.4 32.4 0 0 0 466.96 419.97Z" fill="#33cc33" stroke="#333333" stroke-width="0.7" stroke-linejoin="round"/>
<path d="M453.5 390.5L466.96 419.97A32.4 32.4 0 0 0 474.72 414.99Z" fill="#b35a00" stroke="#333333" stroke-width="0.7" stroke-linejoin="round"/>
<path d="M453.5 390.5L474.72 414.99A32.4 32.4 0 0 0 480.76 408.02Z" fill="#b35a00" stroke="#333333" stroke-width="0.7" stroke-linejoin="round"/>
<path d="M453.5 390.5L480.76 408.02A32.4 32.4 0 0 0 484.59 399.63Z" fill="#990099" stroke="#333333" stroke-width="0.7" stroke-linejoin="round"/>
<path d="M453.5 390.5L484.59 399.63A32.4 32.4 0 0 0 485.9 390.5Z" fill="#ff0050" stroke="#333333" stroke-width="0.7" stroke-linejoin="round"/>
<circle cx="453.5" cy="390.5" r="1.4" fill="#1a1a1a"/>
<circle cx="435.8" cy="432.5" r="7.5" fill="#ccccff" stroke="#333333" stroke-width="0.7"/>
<circle cx="459.8" cy="435.8" r="7.5" fill="#33cc33" stroke="#333333" stroke-width="0.7"/>
<text x="453" y="27.6" class="nl">1067</text>
<text x="512.1" y="20.6" class="nl">2869</text>
<text x="497" y="55.2" class="nl">1017</text>
<text x="437.6" y="56.9" class="nl">889</text>
<text x="522.4" y="73.5" class="nl">8551</text>
<text x="449.4" y="83.5" class="nl">1101</text>
<text x="485.7" y="113" class="nl">7728</text>
<text x="474.7" y="155.1" class="nl">9260</text>
<text x="491.5" y="179.5" class="nl">8224</text>
<text x="517.8" y="199.8" class="nl">8213</text>
<text x="455.1" y="210.8" class="nl">1161</text>
<text x="486.5" y="224.5" class="nl">9193</text>
<text x="422.8" y="141.7" class="nl">1833</text>
<text x="430.8" y="199.6" class="nl">1192</text>
<text x="488.7" y="283.4" class="nl">2934</text>
<text x="471.6" y="335.9" class="nl">7730</text>
<text x="489.7" y="392.9" class="nl">1839</text>
<text x="409.4" y="434.8" class="nl">2936</text>
<text x="470.9" y="438.8" class="nl">8227</text>
</g>
<text x="68.2" y="22.1" class="pl">(A)</text>
<text x="238.5" y="22.1" class="pl">(B)</text>
<text x="409.5" y="22.1" class="pl">(C)</text>
<path d="M38.2 12.4H28.7V117.0H38.2" fill="none" stroke="#484848" stroke-width="1.2"/>
<path d="M38.2 141.3H28.7V228.2H38.2" fill="none" stroke="#484848" stroke-width="1.2"/>
<path d="M38.2 263.5H28.7V442.9H38.2" fill="none" stroke="#484848" stroke-width="1.2"/>
<text transform="translate(22.9 65.8) rotate(-90)" text-anchor="middle" class="sp" textLength="96" lengthAdjust="spacingAndGlyphs"><tspan class="it">C. coli</tspan> (non-<tspan class="it">aspA103</tspan>)</text>
<text transform="translate(22.9 187.3) rotate(-90)" text-anchor="middle" class="sp" textLength="76.5" lengthAdjust="spacingAndGlyphs"><tspan class="it">C. coli</tspan> (<tspan class="it">aspA103</tspan>)</text>
<text transform="translate(21.5 353.3) rotate(-90)" text-anchor="middle" class="sp" textLength="36.8" lengthAdjust="spacingAndGlyphs"><tspan class="it">C. jejuni</tspan></text>
<text x="180.0" y="229.6" class="lt">Source</text>
<rect x="180.2" y="233" width="7.7" height="7.4" fill="#ffffff" stroke="#4a4a4a" stroke-width="0.85"/>
<text x="190.5" y="239" class="li">fly</text>
<rect x="180.2" y="244" width="7.7" height="7.4" fill="#6a6a6a" stroke="#4a4a4a" stroke-width="0.85"/>
<text x="190.5" y="250" class="li">fecal</text>
<text x="347.3" y="229.6" class="lt">AMR profile</text>
<rect x="346.3" y="233.2" width="7.7" height="7.4" fill="#fb94fb" stroke="#4a4a4a" stroke-width="0.85"/>
<text x="357.2" y="239.2" class="li">TSKQG</text>
<rect x="346.3" y="243.98" width="7.7" height="7.4" fill="#ff0050" stroke="#4a4a4a" stroke-width="0.85"/>
<text x="357.2" y="249.98" class="li">TS</text>
<rect x="346.3" y="254.76" width="7.7" height="7.4" fill="#8080f0" stroke="#4a4a4a" stroke-width="0.85"/>
<text x="357.2" y="260.76" class="li">TKG</text>
<rect x="346.3" y="265.54" width="7.7" height="7.4" fill="#ffd700" stroke="#4a4a4a" stroke-width="0.85"/>
<text x="357.2" y="271.54" class="li">TKQG</text>
<rect x="346.3" y="276.32" width="7.7" height="7.4" fill="#ccccff" stroke="#4a4a4a" stroke-width="0.85"/>
<text x="357.2" y="282.32" class="li">TKQ</text>
<rect x="346.3" y="287.1" width="7.7" height="7.4" fill="#bfff66" stroke="#4a4a4a" stroke-width="0.85"/>
<text x="357.2" y="293.1" class="li">TSKQ</text>
<rect x="346.3" y="297.88" width="7.7" height="7.4" fill="#d0640e" stroke="#4a4a4a" stroke-width="0.85"/>
<text x="357.2" y="303.88" class="li">TSEKQG</text>
<rect x="346.3" y="308.66" width="7.7" height="7.4" fill="#990099" stroke="#4a4a4a" stroke-width="0.85"/>
<text x="357.2" y="314.66" class="li">T</text>
<rect x="346.3" y="319.44" width="7.7" height="7.4" fill="#00c060" stroke="#4a4a4a" stroke-width="0.85"/>
<text x="357.2" y="325.44" class="li">TK</text>
<rect x="346.3" y="330.22" width="7.7" height="7.4" fill="#707070" stroke="#4a4a4a" stroke-width="0.85"/>
<text x="357.2" y="336.22" class="li">TEKQG</text>
<rect x="346.3" y="341" width="7.7" height="7.4" fill="#99ffff" stroke="#4a4a4a" stroke-width="0.85"/>
<text x="357.2" y="347" class="li">TEK</text>
<rect x="346.3" y="351.78" width="7.7" height="7.4" fill="#ffffff" stroke="#4a4a4a" stroke-width="0.85"/>
<text x="357.2" y="357.78" class="li">SEKQG</text>
<text x="518.4" y="229.6" class="lt" textLength="19.3" lengthAdjust="spacingAndGlyphs">Flock</text>
<rect x="518.0" y="233.2" width="7.7" height="7.4" fill="#bfff66" stroke="#4a4a4a" stroke-width="0.85"/>
<text x="529.3" y="239.2" class="li">1</text>
<rect x="518.0" y="243.98" width="7.7" height="7.4" fill="#000000" stroke="#4a4a4a" stroke-width="0.85"/>
<text x="529.3" y="249.98" class="li">2</text>
<rect x="518.0" y="254.76" width="7.7" height="7.4" fill="#ffffff" stroke="#4a4a4a" stroke-width="0.85"/>
<text x="529.3" y="260.76" class="li">3</text>
<rect x="518.0" y="265.54" width="7.7" height="7.4" fill="#ffd700" stroke="#4a4a4a" stroke-width="0.85"/>
<text x="529.3" y="271.54" class="li">4</text>
<rect x="518.0" y="276.32" width="7.7" height="7.4" fill="#00ffff" stroke="#4a4a4a" stroke-width="0.85"/>
<text x="529.3" y="282.32" class="li">5</text>
<rect x="518.0" y="287.1" width="7.7" height="7.4" fill="#33cc33" stroke="#4a4a4a" stroke-width="0.85"/>
<text x="529.3" y="293.1" class="li">6</text>
<rect x="518.0" y="297.88" width="7.7" height="7.4" fill="#b35a00" stroke="#4a4a4a" stroke-width="0.85"/>
<text x="529.3" y="303.88" class="li">7</text>
<rect x="518.0" y="308.66" width="7.7" height="7.4" fill="#990099" stroke="#4a4a4a" stroke-width="0.85"/>
<text x="529.3" y="314.66" class="li">8</text>
<rect x="518.0" y="319.44" width="7.7" height="7.4" fill="#ff0050" stroke="#4a4a4a" stroke-width="0.85"/>
<text x="529.3" y="325.44" class="li">9</text>
<rect x="518.0" y="330.22" width="7.7" height="7.4" fill="#c8c8c8" stroke="#4a4a4a" stroke-width="0.85"/>
<text x="529.3" y="336.22" class="li">10</text>
<rect x="518.0" y="341" width="7.7" height="7.4" fill="#1a1af0" stroke="#4a4a4a" stroke-width="0.85"/>
<text x="529.3" y="347" class="li">11</text>
<rect x="518.0" y="351.78" width="7.7" height="7.4" fill="#ffcc99" stroke="#4a4a4a" stroke-width="0.85"/>
<text x="529.3" y="357.78" class="li">12</text>
<rect x="518.0" y="362.56" width="7.7" height="7.4" fill="#e6e699" stroke="#4a4a4a" stroke-width="0.85"/>
<text x="529.3" y="368.56" class="li">13</text>
<rect x="518.0" y="373.34" width="7.7" height="7.4" fill="#f050f0" stroke="#4a4a4a" stroke-width="0.85"/>
<text x="529.3" y="379.34" class="li">14</text>
<rect x="518.0" y="384.12" width="7.7" height="7.4" fill="#cc9933" stroke="#4a4a4a" stroke-width="0.85"/>
<text x="529.3" y="390.12" class="li">15</text>
<rect x="518.0" y="394.9" width="7.7" height="7.4" fill="#ccccff" stroke="#4a4a4a" stroke-width="0.85"/>
<text x="529.3" y="400.9" class="li">16</text>
<rect x="518.0" y="405.68" width="7.7" height="7.4" fill="#66aaff" stroke="#4a4a4a" stroke-width="0.85"/>
<text x="529.3" y="411.68" class="li">17</text>
<rect x="518.0" y="416.46" width="7.7" height="7.4" fill="#cc9999" stroke="#4a4a4a" stroke-width="0.85"/>
<text x="529.3" y="422.46" class="li">18</text>
</svg>
</body></html>
